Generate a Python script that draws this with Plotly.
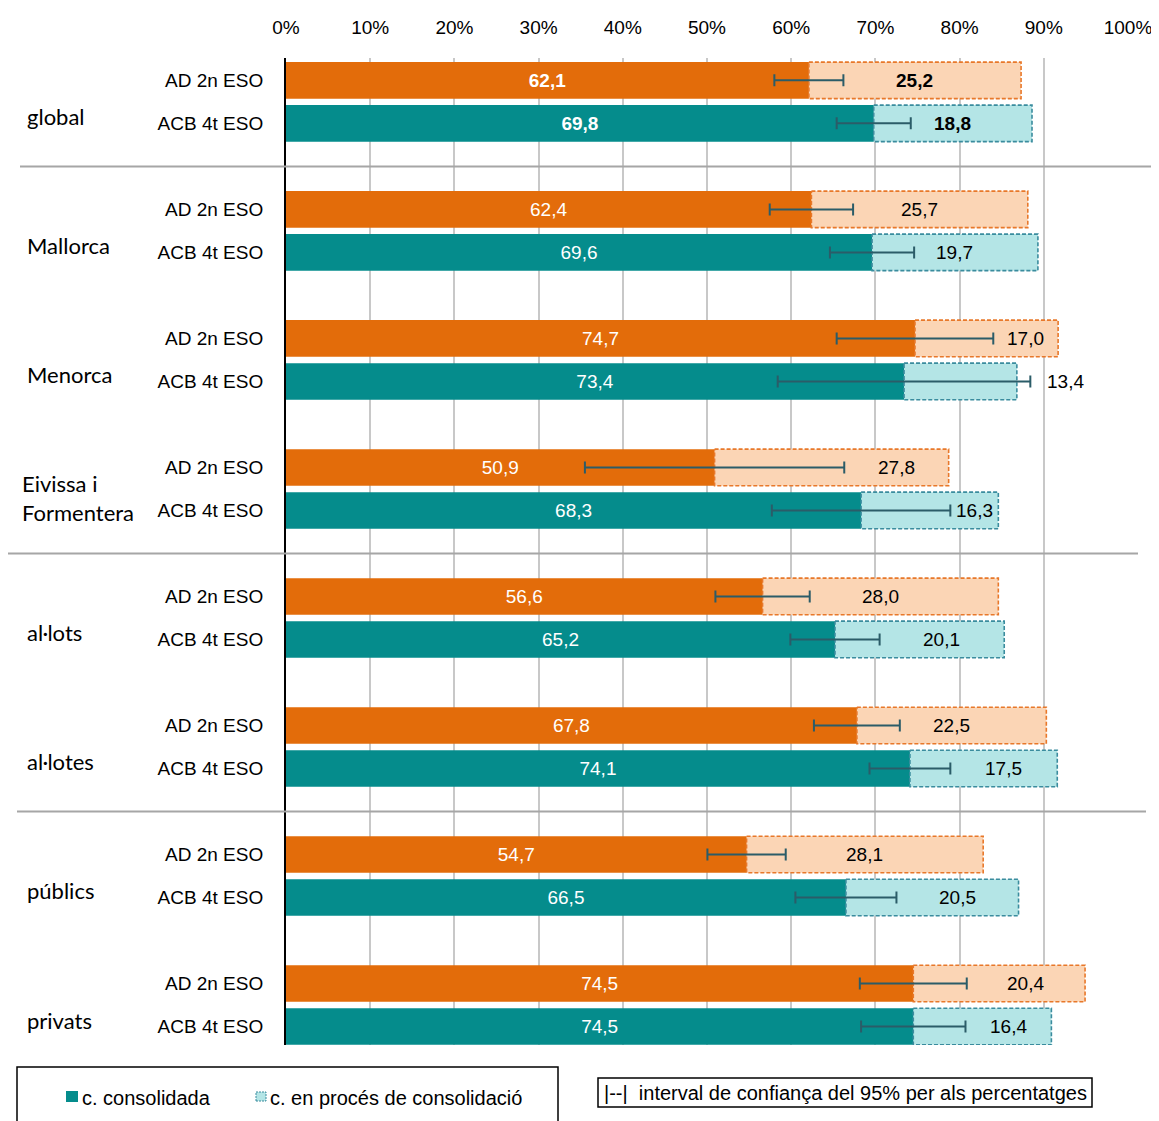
import plotly.graph_objects as go

groups = ["global", "Mallorca", "Menorca", "Eivissa i<br>Formentera",
          "al·lots", "al·lotes", "públics", "privats"]
tests = ["AD 2n ESO", "ACB 4t ESO"]
x_ticks = list(range(0, 101, 10))

ad_consolidada = [62.1, 62.4, 74.7, 50.9, 56.6, 67.8, 54.7, 74.5]
ad_en_proces = [25.2, 25.7, 17.0, 27.8, 28.0, 22.5, 28.1, 20.4]
ad_ic = [4.1, 4.95, 9.3, 15.4, 5.6, 5.1, 4.65, 6.35]

acb_consolidada = [69.8, 69.6, 73.4, 68.3, 65.2, 74.1, 66.5, 74.5]
acb_en_proces = [18.8, 19.7, 13.4, 16.3, 20.1, 17.5, 20.5, 16.4]
acb_ic = [4.4, 5.0, 15.0, 10.6, 5.3, 4.8, 6.0, 6.2]

# where the light label sits: c = centre, m = between CI end and bar end, o = outside
ad_label_pos = ["c", "c", "m", "m", "c", "c", "c", "m"]
acb_label_pos = ["c", "c", "o", "m", "m", "m", "m", "m"]

# groups separated by a line after these indices
separators = [0, 3, 5]

ORANGE = "#E36C0A"
TEAL = "#058C8C"
ORANGE_L = "#FBD5B5"
TEAL_L = "#B4E5E6"
ORANGE_EDGE = "#E8782A"
TEAL_EDGE = "#3A8C9E"
ERR = "#2B5C68"
ARIAL = "Liberation Sans, Arial, sans-serif"

H = 0.425  # half bar height in y units


def fmt(v, bold):
    s = f"{v:.1f}".replace(".", ",")
    return f"<b>{s}</b>" if bold else s


y, cons, proc, ic, dark, light = [], [], [], [], [], []
dark_txt = []
annotations = []
outline = {ORANGE_EDGE: ([], []), TEAL_EDGE: ([], [])}
for i in range(len(groups)):
    rows = [(ad_consolidada[i], ad_en_proces[i], ad_ic[i], ad_label_pos[i], ORANGE, ORANGE_L, ORANGE_EDGE),
            (acb_consolidada[i], acb_en_proces[i], acb_ic[i], acb_label_pos[i], TEAL, TEAL_L, TEAL_EDGE)]
    for j, (c, p, e, lp, dc, lc, ec) in enumerate(rows):
        yy = 3 * i + j
        y.append(yy)
        cons.append(c)
        proc.append(p)
        ic.append(e)
        dark.append(dc)
        light.append(lc)
        dark_txt.append(fmt(c, i == 0))
        if lp == "c":
            lx, anchor = c + p / 2, "center"
        elif lp == "m":
            lx, anchor = (c + e + c + p) / 2, "center"
        else:
            lx, anchor = c + e + 1.8, "left"
        annotations.append(dict(
            text=fmt(p, i == 0), x=lx, y=yy, xref="x", yref="y",
            xanchor=anchor, yanchor="middle", showarrow=False,
            font=dict(color="black", size=19, family=ARIAL),
        ))
        ox, oy = outline[ec]
        ox += [c, c + p, c + p, c, c, None]
        oy += [yy - H, yy - H, yy + H, yy + H, yy - H, None]

fig = go.Figure()

fig.add_trace(go.Bar(
    x=proc, y=y, base=cons, orientation="h", width=2 * H,
    marker=dict(color=light, line=dict(width=0)), hoverinfo="skip",
))
fig.add_trace(go.Bar(
    x=cons, y=y, orientation="h", width=2 * H,
    marker=dict(color=dark, line=dict(width=0)),
    text=dark_txt, textposition="inside", insidetextanchor="middle", textangle=0,
    textfont=dict(color="white", size=19, family=ARIAL),
))
for col, (ox, oy) in outline.items():
    fig.add_trace(go.Scatter(
        x=ox, y=oy, mode="lines", line=dict(color=col, width=1.6, dash="4px,2px"),
        hoverinfo="skip",
    ))
fig.add_trace(go.Scatter(
    x=cons, y=y, mode="markers", marker=dict(size=1, color="rgba(0,0,0,0)"),
    error_x=dict(type="data", array=ic, color=ERR, thickness=2, width=6),
))


# helpers: window pixels of the reference -> paper coords (plot area 286..1128 x 58..1045)
def px_x(px):
    return (px - 286) / 842


def px_y(py):
    return (1045 - py) / 987


shapes = []
sep_ext = [(20, 1152), (8, 1138), (17, 1146)]
for k, (a, b) in zip(separators, sep_ext):
    shapes.append(dict(type="line", xref="paper", yref="y", x0=px_x(a), x1=px_x(b),
                       y0=3 * k + 2, y1=3 * k + 2, line=dict(color="#A6A6A6", width=2)))

# legend boxes
shapes.append(dict(type="rect", xref="paper", yref="paper", x0=px_x(17), x1=px_x(558),
                   y0=px_y(1135), y1=px_y(1067), line=dict(color="black", width=1.5)))
shapes.append(dict(type="rect", xref="paper", yref="paper", x0=px_x(598), x1=px_x(1092),
                   y0=px_y(1107), y1=px_y(1078), line=dict(color="black", width=1.5)))
shapes.append(dict(type="rect", xref="paper", yref="paper", x0=px_x(66), x1=px_x(78),
                   y0=px_y(1102), y1=px_y(1091), fillcolor=TEAL, line=dict(width=0)))
shapes.append(dict(type="rect", xref="paper", yref="paper", x0=px_x(256), x1=px_x(266),
                   y0=px_y(1101), y1=px_y(1092), fillcolor=TEAL_L,
                   line=dict(color=TEAL_EDGE, width=1, dash="2px,1px")))

for i, g in enumerate(groups):
    annotations.append(dict(
        text=g, xref="paper", yref="y", x=px_x(20 if i == 3 else 25), y=3 * i + 0.5,
        xanchor="left", yanchor="middle", yshift=-9 if i == 3 else -15,
        showarrow=False, align="left",
        font=dict(family="Lato, Open Sans, sans-serif", size=22, color="black"),
    ))
legend_font = dict(family=ARIAL, size=20, color="black")
annotations.append(dict(text="c. consolidada", xref="paper", yref="paper",
                        x=px_x(80), y=px_y(1098), xanchor="left", yanchor="middle",
                        showarrow=False, font=legend_font))
annotations.append(dict(text="c. en procés de consolidació", xref="paper", yref="paper",
                        x=px_x(268), y=px_y(1098), xanchor="left", yanchor="middle",
                        showarrow=False, font=legend_font))
annotations.append(dict(text="|--|  interval de confiança del 95% per als percentatges",
                        xref="paper", yref="paper",
                        x=px_x(845), y=px_y(1093), xanchor="center", yanchor="middle",
                        showarrow=False, font=legend_font))

# the page puts the figure 8px in from the top-left corner
fig.update_layout(
    width=1151, height=1113,
    margin=dict(l=278, r=31, t=50, b=76),
    barmode="overlay",
    showlegend=False,
    plot_bgcolor="white",
    paper_bgcolor="white",
    shapes=shapes,
    annotations=annotations,
    xaxis=dict(
        range=[0, 100], side="top", tickmode="array", tickvals=x_ticks,
        ticktext=[f"{v}%" for v in x_ticks], automargin=False,
        showgrid=True, gridcolor="#C8C8C8", gridwidth=1.5, zeroline=False, showline=False,
        tickfont=dict(family=ARIAL, size=19, color="black"), ticklabelstandoff=19,
        fixedrange=True,
    ),
    yaxis=dict(
        range=[22.43, -0.52], tickvals=y, ticktext=tests * len(groups), automargin=False,
        showgrid=False, zeroline=False, showline=True, linecolor="black", linewidth=2,
        ticks="", ticklabelstandoff=17,
        tickfont=dict(family=ARIAL, size=19, color="black"),
    ),
)

fig.write_html("out.html")
